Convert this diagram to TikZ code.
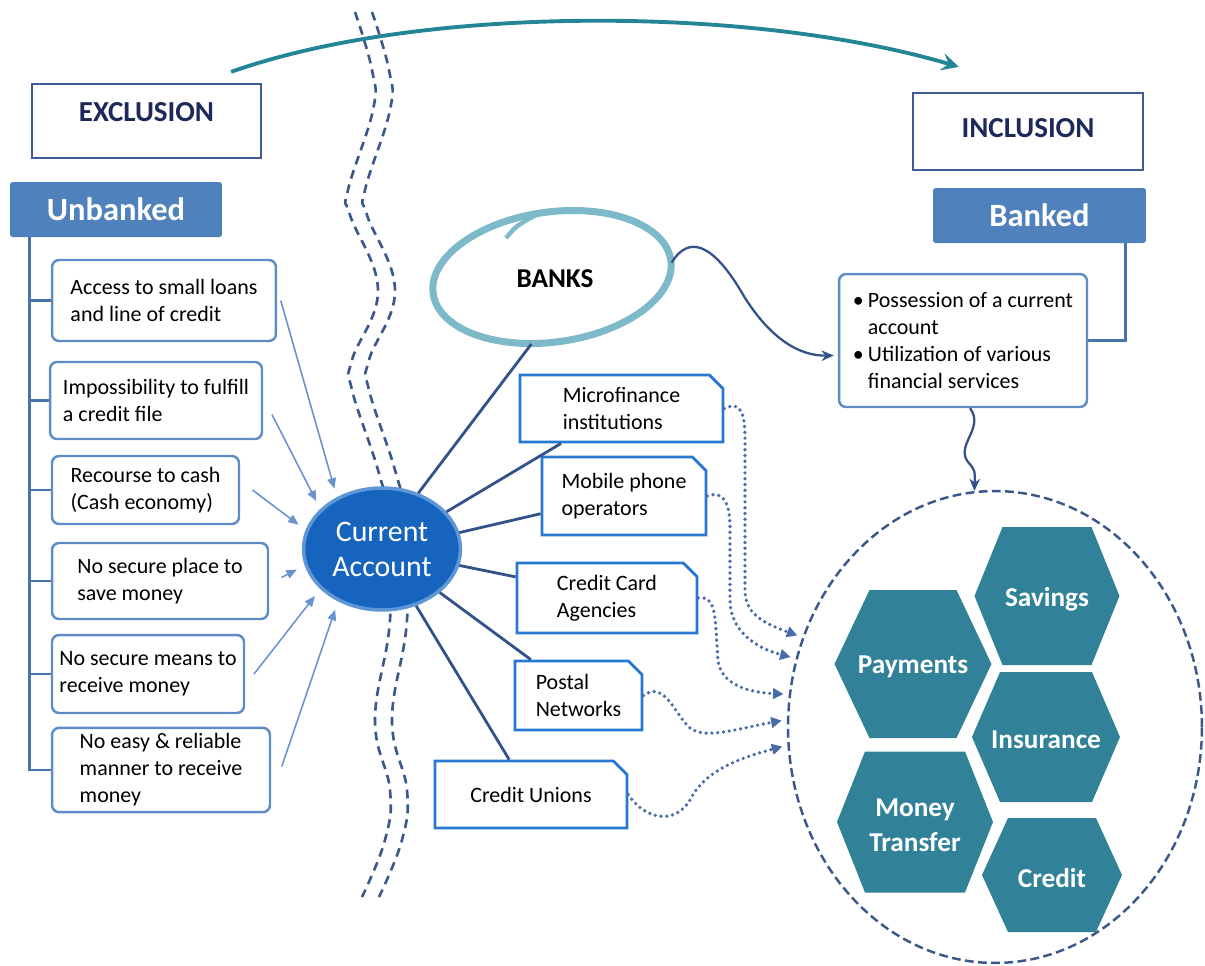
\documentclass[tikz,border=0pt]{standalone}
\usepackage{fontspec}
\setmainfont{Carlito}
\usetikzlibrary{arrows.meta, shapes.geometric, shapes.misc, calc}

\definecolor{arcteal}{RGB}{36,133,150}
\definecolor{navytext}{RGB}{30,40,90}
\definecolor{frameblue}{RGB}{62,92,150}
\definecolor{headblue}{RGB}{79,129,189}
\definecolor{boxblue}{RGB}{95,140,200}
\definecolor{feedblue}{RGB}{105,148,208}
\definecolor{acctblue}{RGB}{22,100,190}
\definecolor{acctrim}{RGB}{95,150,215}
\definecolor{waveblue}{RGB}{58,88,138}
\definecolor{spokeblue}{RGB}{52,82,138}
\definecolor{provblue}{RGB}{38,120,210}
\definecolor{dotblue}{RGB}{72,108,168}
\definecolor{ringteal}{RGB}{125,185,200}
\definecolor{hexteal}{RGB}{49,130,153}

\begin{document}
\begin{tikzpicture}[x=0.02cm, y=-0.02cm,
    stagebox/.style={draw=frameblue, line width=1.3pt, minimum height=1.48cm, text=navytext, font=\fontsize{16.5}{20}\selectfont\bfseries},
    headbox/.style={fill=headblue, rounded corners=1.5pt, minimum width=4.24cm, minimum height=1.1cm, text=white, font=\fontsize{18.5}{22}\selectfont\bfseries},
    needbox/.style={draw=boxblue, line width=1.4pt, fill=white, rounded corners=4pt, align=left, font=\fontsize{12.5}{15.3}\selectfont},
    provbox/.style={draw=provblue, line width=1.6pt, fill=white, chamfered rectangle, chamfered rectangle corners=north east, chamfered rectangle xsep=0.16cm, align=left, font=\fontsize{12.5}{15.3}\selectfont},
    acct/.style={ellipse, fill=acctblue, draw=acctrim, line width=2pt, minimum width=2.78cm, minimum height=2.44cm, align=center, text=white, font=\fontsize{17}{20}\selectfont},
    bigring/.style={ellipse, draw=waveblue, line width=1.4pt, dash pattern=on 5pt off 2.5pt, minimum width=8.28cm, minimum height=9.44cm},
    hexlabel/.style={align=center, text=white, font=\fontsize{15.5}{20}\selectfont\bfseries},
    waveline/.style={draw=waveblue, line width=1.5pt, dash pattern=on 5pt off 3.5pt},
    bigarc/.style={draw=arcteal, line width=2.2pt, -{Stealth[length=10pt, width=10pt, inset=4pt]}},
    ring/.style={draw=ringteal, line width=4pt},
    trunkline/.style={draw=headblue!90!black, line width=1.6pt},
    feedarrow/.style={draw=feedblue, line width=0.9pt, shorten >=5pt, -{Triangle[length=6pt, width=5pt]}},
    spokeline/.style={draw=spokeblue, line width=1.6pt},
    dotlink/.style={draw=dotblue, line width=2.1pt, dash pattern=on 0pt off 3.3pt, line cap=round, shorten >=3pt, -{Triangle[length=6pt, width=6pt]}},
    navlink/.style={draw=spokeblue, line width=1.3pt, -{Stealth[length=7pt, width=6pt]}}]

    \useasboundingbox (0,0) rectangle (1205,965);

    % Dashed boundary between exclusion and inclusion
    \foreach \dx in {0,17}
        \draw[waveline, shift={(\dx,0)}] plot[smooth, tension=0.7] coordinates {(355,12) (372,70) (373,110) (348,190) (350,215) (378,290) (352,360) (352,390) (378,470) (388,520) (390,620) (375,720) (390,790) (385,840) (362,897)};

    % Headings
    \node[stagebox, minimum width=4.58cm] (exclusion) at (146.5,121) {\raisebox{10pt}{EXCLUSION}};
    \node[stagebox, minimum width=4.6cm, minimum height=1.54cm] (inclusion) at (1028,131.5) {\raisebox{4pt}{INCLUSION}};
    \node[headbox] (unbanked) at (116,209.5) {Unbanked};
    \node[headbox, minimum width=4.26cm] (banked) at (1039.5,215.5) {Banked};

    % Arc from exclusion to inclusion
    \draw[bigarc] ($(exclusion.north east)+(-31,-11)$) .. controls (420,5) and (750,5) .. ($(inclusion.north west)+(47,-25)$);

    % Needs of the unbanked
    \node[needbox, minimum width=4.48cm, minimum height=1.62cm] (need1) at (164,300.5) {Access to small loans\\and line of credit};
    \node[needbox, minimum width=4.24cm, minimum height=1.54cm] (need2) at (156,400.5) {Impossibility to fulfill\\a credit file};
    \node[needbox, minimum width=3.74cm, minimum height=1.36cm] (need3) at (145.5,490) {Recourse to cash\\(Cash economy)};
    \node[needbox, minimum width=4.32cm, minimum height=1.52cm] (need4) at (160,581) {No secure place to\\save money};
    \node[needbox, minimum width=3.84cm, minimum height=1.56cm] (need5) at (148,674) {No secure means to\\receive money};
    \node[needbox, minimum width=4.36cm, minimum height=1.52cm] (need6) at (161,770) {No easy \& reliable\\manner to receive\\money};

    \coordinate (trunk) at ($(unbanked.south west)+(20,0)$);
    \draw[trunkline] (trunk) |- (need6.west);
    \foreach \i in {1,...,5}
        \draw[trunkline] (trunk |- need\i.west) -- (need\i.west);

    % Current account
    \node[acct] (ca) at (382,549) {Current\\Account};

    \draw[feedarrow] ([xshift=2pt]need1.east) -- (ca.131);
    \draw[feedarrow] ([xshift=5pt, yshift=-8pt]need2.east) -- (ca.147);
    \draw[feedarrow] ([xshift=7pt]need3.east) -- (ca.166);
    \draw[feedarrow] ([xshift=7pt, yshift=2pt]need4.east) -- (ca.192);
    \draw[feedarrow] ([xshift=5pt]need5.east) -- (ca.213);
    \draw[feedarrow] ([xshift=6pt, yshift=2pt]need6.east) -- (ca.230);

    % Banks
    \node[ellipse, minimum width=4.8cm, minimum height=2.64cm, font=\fontsize{15.5}{18}\selectfont\bfseries] (banks) at (555,279) {BANKS};
    \draw[ring] ($(banks.center)+(-3,-2)$) ellipse [x radius=120, y radius=65, rotate=8];
    \draw[ring, line width=2.5pt] (506,238) .. controls (516,226) .. (536,215);
    \draw[spokeline] (ca.57) -- (banks.250);

    % Other providers
    \node[provbox, minimum width=4.06cm, minimum height=1.34cm] (mfi) at (621.5,408.5) {Microfinance\\institutions};
    \node[provbox, minimum width=3.28cm, minimum height=1.56cm] (mobile) at (624,496) {Mobile phone\\operators};
    \node[provbox, minimum width=3.6cm, minimum height=1.4cm] (cards) at (607,598) {Credit Card\\Agencies};
    \node[provbox, minimum width=2.54cm, minimum height=1.38cm] (postal) at (578.5,695.5) {Postal\\Networks};
    \node[provbox, minimum width=3.84cm, minimum height=1.34cm] (unions) at (531,794.5) {Credit Unions};

    \draw[spokeline] (ca.30) -- (mfi.210);
    \draw[spokeline] (ca.12) -- (mobile.192);
    \draw[spokeline] (ca.348) -- (cards.167);
    \draw[spokeline] (ca.323) -- (postal.143);
    \draw[spokeline] (ca.301) -- (unions.122);

    % Inclusion side
    \node[needbox, minimum width=4.96cm, minimum height=2.66cm] (services) at (963,340.5) {\makebox[0.3cm][l]{\textbullet}Possession of a current\\\hspace*{0.3cm}account\\\makebox[0.3cm][l]{\textbullet}Utilization of various\\\hspace*{0.3cm}financial services};
    \draw[trunkline] ($(banked.south east)+(-21,0)$) |- (services.east);
    \draw[navlink] (banks.8) .. controls (688,236) and (712,240) .. (745,298) .. controls (772,340) and (800,356) .. ($(services.west)+(-4,15)$);

    \node[bigring] (bigc) at (995,727) {};
    \draw[navlink] ([xshift=4pt]services.south) .. controls (985,428) and (955,445) .. (968,462) .. controls (975,470) .. (bigc.95);

    % Dotted links into the services
    \draw[dotlink] (mfi.east) .. controls (742,400) and (745,415) .. (745,440) -- (745,590) .. controls (745,612) and (760,622) .. (bigc.155);
    \draw[dotlink] (mobile.east) .. controls (725,490) and (730,505) .. (730,530) -- (730,600) .. controls (730,630) and (755,648) .. (bigc.161);
    \draw[dotlink] (cards.east) .. controls (712,595) and (715,610) .. (716,630) -- (718,660) .. controls (720,680) and (740,692) .. (bigc.171);
    \draw[dotlink] (postal.east) .. controls (665,680) and (675,715) .. (690,728) .. controls (705,740) and (740,728) .. (bigc.178);
    \draw[dotlink] (unions.east) .. controls (645,820) and (675,825) .. (690,800) .. controls (705,770) and (740,758) .. (bigc.185);

    % Financial services
    \foreach \cx/\cy/\w/\h/\ins/\nm/\txt in {1047/596/145/138/28/savings/Savings, 913/664/157/148/35/payments/Payments, 1046/737/148/130/28/insurance/Insurance, 915/822/156/141/28/transfer/{Money\\Transfer}, 1052/875/140/114/26/credit/Credit}{
        \fill[hexteal] (\cx-\w/2,\cy) -- (\cx-\w/2+\ins,\cy-\h/2) -- (\cx+\w/2-\ins,\cy-\h/2) -- (\cx+\w/2,\cy) -- (\cx+\w/2-\ins,\cy+\h/2) -- (\cx-\w/2+\ins,\cy+\h/2) -- cycle;
        \node[hexlabel] (\nm) at (\cx,\cy+3) {\txt};
    }

\end{tikzpicture}
\end{document}
